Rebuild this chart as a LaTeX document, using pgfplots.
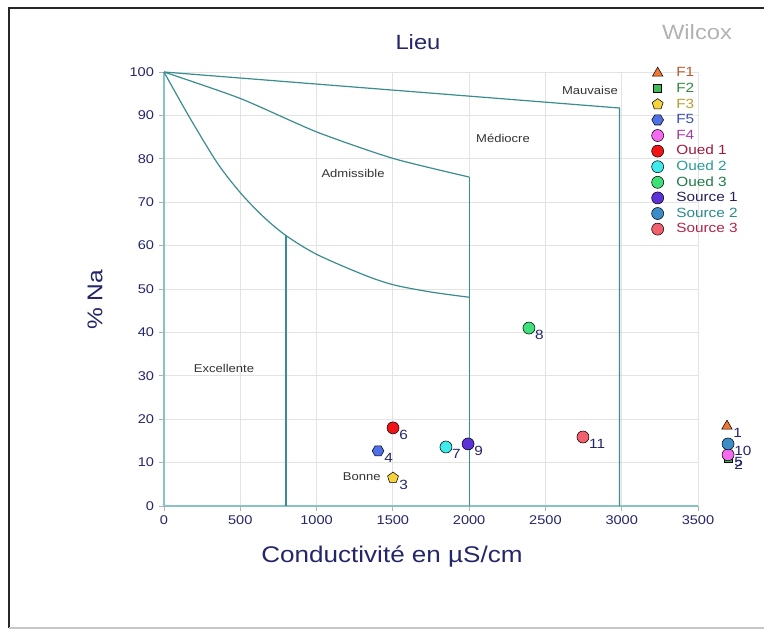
\documentclass[border=0pt]{standalone}
\usepackage{pgfplots}
\pgfplotsset{compat=1.18}
\usepackage{fontspec}
\setmainfont{Liberation Sans}[FakeStretch=1.15]
\usetikzlibrary{plotmarks}

\definecolor{navyc}{HTML}{25256A}
\definecolor{linec}{HTML}{3A8C8F}
\definecolor{axisc}{HTML}{86C2C6}
% marker fills
\definecolor{cF1}{HTML}{F07830}
\definecolor{cF2}{HTML}{3DBE55}
\definecolor{cF3}{HTML}{F6D23C}
\definecolor{cF5}{HTML}{4F6FE8}
\definecolor{cF4}{HTML}{F46BF0}
\definecolor{cO1}{HTML}{F01414}
\definecolor{cO2}{HTML}{3EEAEA}
\definecolor{cO3}{HTML}{3EE07A}
\definecolor{cS1}{HTML}{5A32D8}
\definecolor{cS2}{HTML}{3C8CC8}
\definecolor{cS3}{HTML}{F2606E}
% legend text
\definecolor{tF1}{HTML}{B85A2A}
\definecolor{tF2}{HTML}{2E8B3E}
\definecolor{tF3}{HTML}{B89B2E}
\definecolor{tF5}{HTML}{3A4FB0}
\definecolor{tF4}{HTML}{A33AA3}
\definecolor{tO1}{HTML}{A01A3A}
\definecolor{tO2}{HTML}{2A9A9A}
\definecolor{tO3}{HTML}{1E7A46}
\definecolor{tS1}{HTML}{25205E}
\definecolor{tS2}{HTML}{2A8A8A}
\definecolor{tS3}{HTML}{B02348}

\pgfdeclareplotmark{hexagon*}{%
  \pgfpathmoveto{\pgfqpoint{\pgfplotmarksize}{0pt}}%
  \pgfpathlineto{\pgfqpoint{0.5\pgfplotmarksize}{0.866\pgfplotmarksize}}%
  \pgfpathlineto{\pgfqpoint{-0.5\pgfplotmarksize}{0.866\pgfplotmarksize}}%
  \pgfpathlineto{\pgfqpoint{-\pgfplotmarksize}{0pt}}%
  \pgfpathlineto{\pgfqpoint{-0.5\pgfplotmarksize}{-0.866\pgfplotmarksize}}%
  \pgfpathlineto{\pgfqpoint{0.5\pgfplotmarksize}{-0.866\pgfplotmarksize}}%
  \pgfpathclose
  \pgfusepathqfillstroke}

\pgfplotsset{
  pt/.style={only marks, mark size=4.5pt,
    legend image code/.code={\path[draw=none] (-6pt,0pt) -- (13pt,0pt); \path[draw=none, mark repeat=2,mark phase=2] plot coordinates {(-6pt,0pt)(0pt,0pt)(13pt,0pt)};}},
}

\begin{document}
\begin{tikzpicture}
\path[use as bounding box] (-123pt,-93.75pt) rectangle (450pt,379.5pt);
\draw[line width=2.2pt, black!85] (-116.25pt,-91.5pt) -- (-116.25pt,373.5pt) -- (452pt,373.5pt);
\draw[line width=0.8pt, gray!45] (-116.25pt,-91.5pt) -- (452pt,-91.5pt);

\begin{axis}[
  scale only axis, width=400.5pt, height=325.5pt,
  at={(0,0)}, anchor=south west,
  xmin=0, xmax=3500, ymin=0, ymax=100,
  xtick={0,500,...,3500}, ytick={0,10,...,100},
  grid=major, major grid style={gray!22, line width=0.6pt},
  axis x line*=bottom, axis y line*=left,
  axis line style={axisc, line width=0.8pt, -},
  tick style={gray!60, line width=0.6pt},
  tick align=outside, major tick length=4pt,
  ticklabel style={font=\fontsize{9.5}{10}\selectfont, text=navyc},
  /pgf/number format/assume math mode=true,
  /pgf/number format/1000 sep={},
  clip=false,
  legend style={at={(0.909,1.016)}, anchor=north west, draw=none, fill=none,
    font=\fontsize{10}{11}\selectfont, row sep=0pt, inner sep=0pt,
    nodes={inner sep=1pt, text height=7.7pt, text depth=2pt}},
  legend cell align=left,
  every node near coord/.append style={anchor=north west, xshift=4pt, yshift=-1pt,
    font=\fontsize{10}{11}\selectfont, text=navyc, inner sep=0.5pt},
  mark options={draw=black!65, line width=0.5pt},
]
% Wilcox boundaries
\addplot[linec, line width=0.9pt, forget plot] coordinates {(0,100) (2985,91.7) (2985,0)};
\addplot[linec, line width=0.9pt, forget plot, smooth, tension=0.4] coordinates {(0,100) (500,93.9) (1000,86.2) (1500,80.1) (2000,75.8)};
\addplot[linec, line width=0.9pt, forget plot] coordinates {(2000,75.8) (2000,0)};
\addplot[linec, line width=0.9pt, forget plot, smooth, tension=0.5] coordinates {(0,100) (100,93.7) (190,88.2) (350,79) (500,72.2) (650,66.7) (800,62.3) (1000,58) (1300,53.4) (1500,51) (1750,49.3) (2000,48.1)};
\addplot[linec, line width=0.9pt, forget plot] coordinates {(800,62.3) (800,0)};

\addplot[pt, mark=triangle*, mark options={fill=cF1}, nodes near coords={1}] coordinates {(3690,18.4)};
\addlegendentry{\textcolor{tF1}{F1}}
\addplot[pt, mark=square*, mark size=3pt, mark options={fill=cF2}, nodes near coords={2}] coordinates {(3697,11.1)};
\addlegendentry{\textcolor{tF2}{F2}}
\addplot[pt, mark=pentagon*, mark size=4.3pt, mark options={fill=cF3}, nodes near coords={3}] coordinates {(1501,6.5)};
\addlegendentry{\textcolor{tF3}{F3}}
\addplot[pt, mark=hexagon*, mark size=4.4pt, mark options={fill=cF5}, nodes near coords={4}] coordinates {(1403,12.7)};
\addlegendentry{\textcolor{tF5}{F5}}
\addplot[pt, mark=*, mark options={fill=cF4}, nodes near coords={5}] coordinates {(3697,11.8)};
\addlegendentry{\textcolor{tF4}{F4}}
\addplot[pt, mark=*, mark options={fill=cO1}, nodes near coords={6}] coordinates {(1501,18.0)};
\addlegendentry{\textcolor{tO1}{Oued 1}}
\addplot[pt, mark=*, mark options={fill=cO2}, nodes near coords={7}] coordinates {(1848,13.6)};
\addlegendentry{\textcolor{tO2}{Oued 2}}
\addplot[pt, mark=*, mark options={fill=cO3}, nodes near coords={8}] coordinates {(2392,41.0)};
\addlegendentry{\textcolor{tO3}{Oued 3}}
\addplot[pt, mark=*, mark options={fill=cS1}, nodes near coords={9}] coordinates {(1993,14.3)};
\addlegendentry{\textcolor{tS1}{Source 1}}
\addplot[pt, mark=*, mark options={fill=cS2}, nodes near coords={10}] coordinates {(3697,14.3)};
\addlegendentry{\textcolor{tS2}{Source 2}}
\addplot[pt, mark=*, mark options={fill=cS3}, nodes near coords={11}] coordinates {(2746,15.9)};
\addlegendentry{\textcolor{tS3}{Source 3}}

% zone names
\begin{scope}[every node/.style={font=\fontsize{8.5}{9}\selectfont, text=black!80}]
\node at (axis cs:2792,95.85) {Mauvaise};
\node at (axis cs:2222,84.8) {Médiocre};
\node at (axis cs:1239,76.7) {Admissible};
\node at (axis cs:393,31.6) {Excellente};
\node[anchor=east] at (axis cs:1450,6.7) {Bonne};
\end{scope}
\end{axis}

\node[font=\fontsize{15.5}{17}\selectfont, text=navyc] at (190.5pt,348pt) {Lieu};
\node[font=\fontsize{15.5}{17}\selectfont, text=black!30] at (399.75pt,355.5pt) {Wilcox};
\node[font=\fontsize{17}{19}\selectfont, text=navyc] at (171pt,-38.25pt) {Conductivité en µS/cm};
\node[font=\fontsize{16}{18}\selectfont, text=navyc, rotate=90] at (-51.75pt,154.5pt) {\% Na};
\end{tikzpicture}
\end{document}
